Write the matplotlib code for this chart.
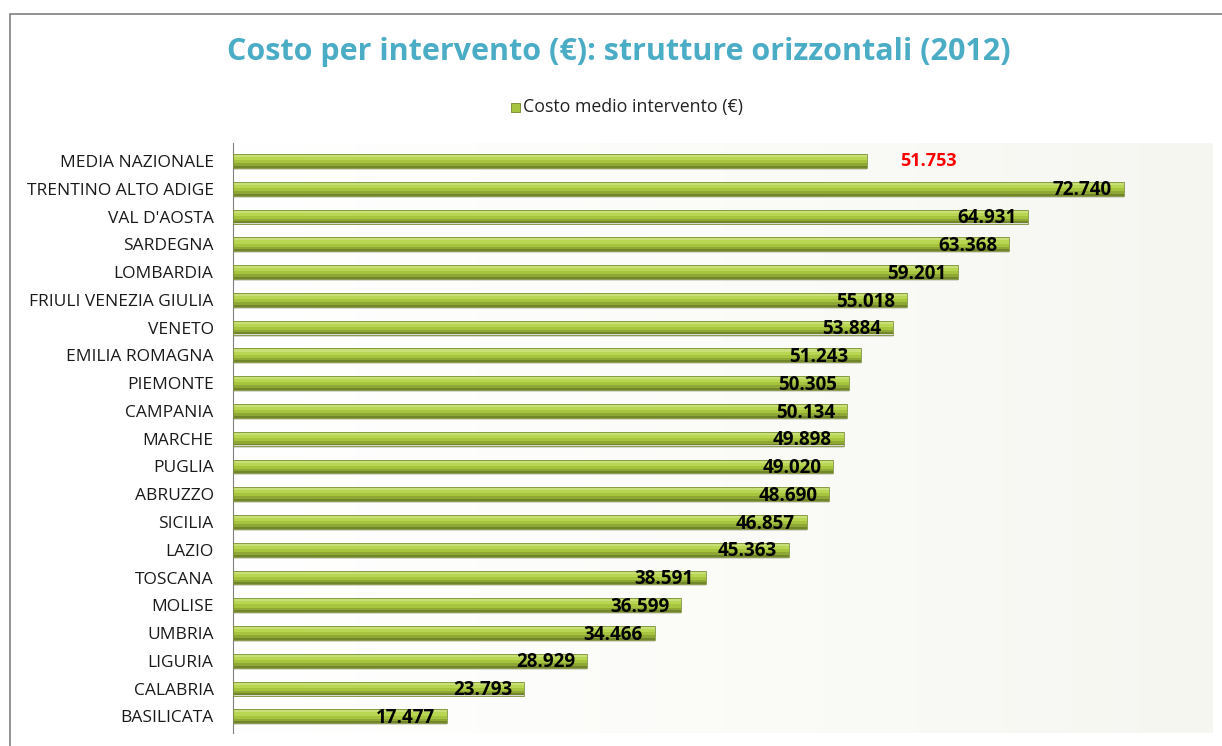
import numpy as np
import matplotlib.pyplot as plt
from matplotlib.patches import Rectangle
from matplotlib.colors import LinearSegmentedColormap

regioni = ['MEDIA NAZIONALE', 'TRENTINO ALTO ADIGE', "VAL D'AOSTA", 'SARDEGNA', 'LOMBARDIA',
           'FRIULI VENEZIA GIULIA', 'VENETO', 'EMILIA ROMAGNA', 'PIEMONTE', 'CAMPANIA',
           'MARCHE', 'PUGLIA', 'ABRUZZO', 'SICILIA', 'LAZIO', 'TOSCANA', 'MOLISE',
           'UMBRIA', 'LIGURIA', 'CALABRIA', 'BASILICATA']
costo = [51753, 72740, 64931, 63368, 59201, 55018, 53884, 51243, 50305, 50134,
         49898, 49020, 48690, 46857, 45363, 38591, 36599, 34466, 28929, 23793, 17477]

def fmt(v):
    return f'{v:,}'.replace(',', '.')

plt.rcParams['font.family'] = ['Open Sans', 'DejaVu Sans']

fig = plt.figure(figsize=(12.22, 7.46), dpi=100)
ax = fig.add_axes([233/1222, 1 - 733/746, (1213 - 233)/1222, (733 - 143)/746])

y = np.arange(len(regioni))
# soft shadow, then cylinder-like shading in bands (top light -> bottom dark)
ax.barh(y + 0.06, costo, height=0.52, color='#d9d9d0', linewidth=0, zorder=1)
bands = [(-0.19, 0.12, '#c9df78'), (-0.08, 0.12, '#b9d652'), (0.03, 0.12, '#a6c43e'),
         (0.13, 0.10, '#8ea735'), (0.21, 0.07, '#71852b')]
for off, h, c in bands:
    ax.barh(y + off, costo, height=h, color=c, linewidth=0, zorder=2)
ax.barh(y, costo, height=0.5, color='none', edgecolor='#7d923a', linewidth=0.6, zorder=3)

for i, v in enumerate(costo):
    if i == 0:
        ax.text(v + 2700, i, fmt(v), color='red', fontsize=13, fontweight='bold',
                va='center', ha='left', zorder=4)
    else:
        ax.text(v - 1000, i + 0.06, fmt(v), color='black', fontsize=13.5, fontweight='bold',
                va='center', ha='right', zorder=4)

ax.set_xlim(0, 80000)
ax.set_ylim(len(regioni) - 0.4, -0.65)
ax.set_yticks(y)
ax.set_yticklabels(regioni, fontsize=12.5, color='#1a1a1a')
ax.tick_params(axis='y', length=0, pad=14)
ax.set_xticks([])
for s in ['top', 'right', 'bottom']:
    ax.spines[s].set_visible(False)
ax.spines['left'].set_color('#808080')
ax.spines['left'].set_linewidth(0.8)

# faint background shading towards the right
grad = np.linspace(0, 1, 256).reshape(1, -1)
ax.imshow(grad, extent=[0, 80000, len(regioni) - 0.4, -0.65], aspect='auto',
          cmap=LinearSegmentedColormap.from_list('bg', ['#ffffff', '#fbfbf8', '#f6f6f1']),
          zorder=0)

fig.text(0.506, 1 - 52/746, 'Costo per intervento (€): strutture orizzontali (2012)',
         color='#4bacc6', fontsize=22, fontweight='bold', ha='center', va='center')

fig.add_artist(Rectangle((511/1222, 1 - 112/746), 9/1222, 9/746, transform=fig.transFigure,
                         facecolor='#a6c43e', edgecolor='#71852b', linewidth=0.6))
fig.text(523/1222, 1 - 107/746, 'Costo medio intervento (€)', fontsize=12.8,
         ha='left', va='center', color='#222222')

# outer chart frame
fig.add_artist(Rectangle((10/1222, -0.01), 1.02, 1 - 14/746 + 0.01, transform=fig.transFigure,
                         facecolor='none', edgecolor='#7f7f7f', linewidth=1.2))

fig.savefig('out.png', dpi=100)
